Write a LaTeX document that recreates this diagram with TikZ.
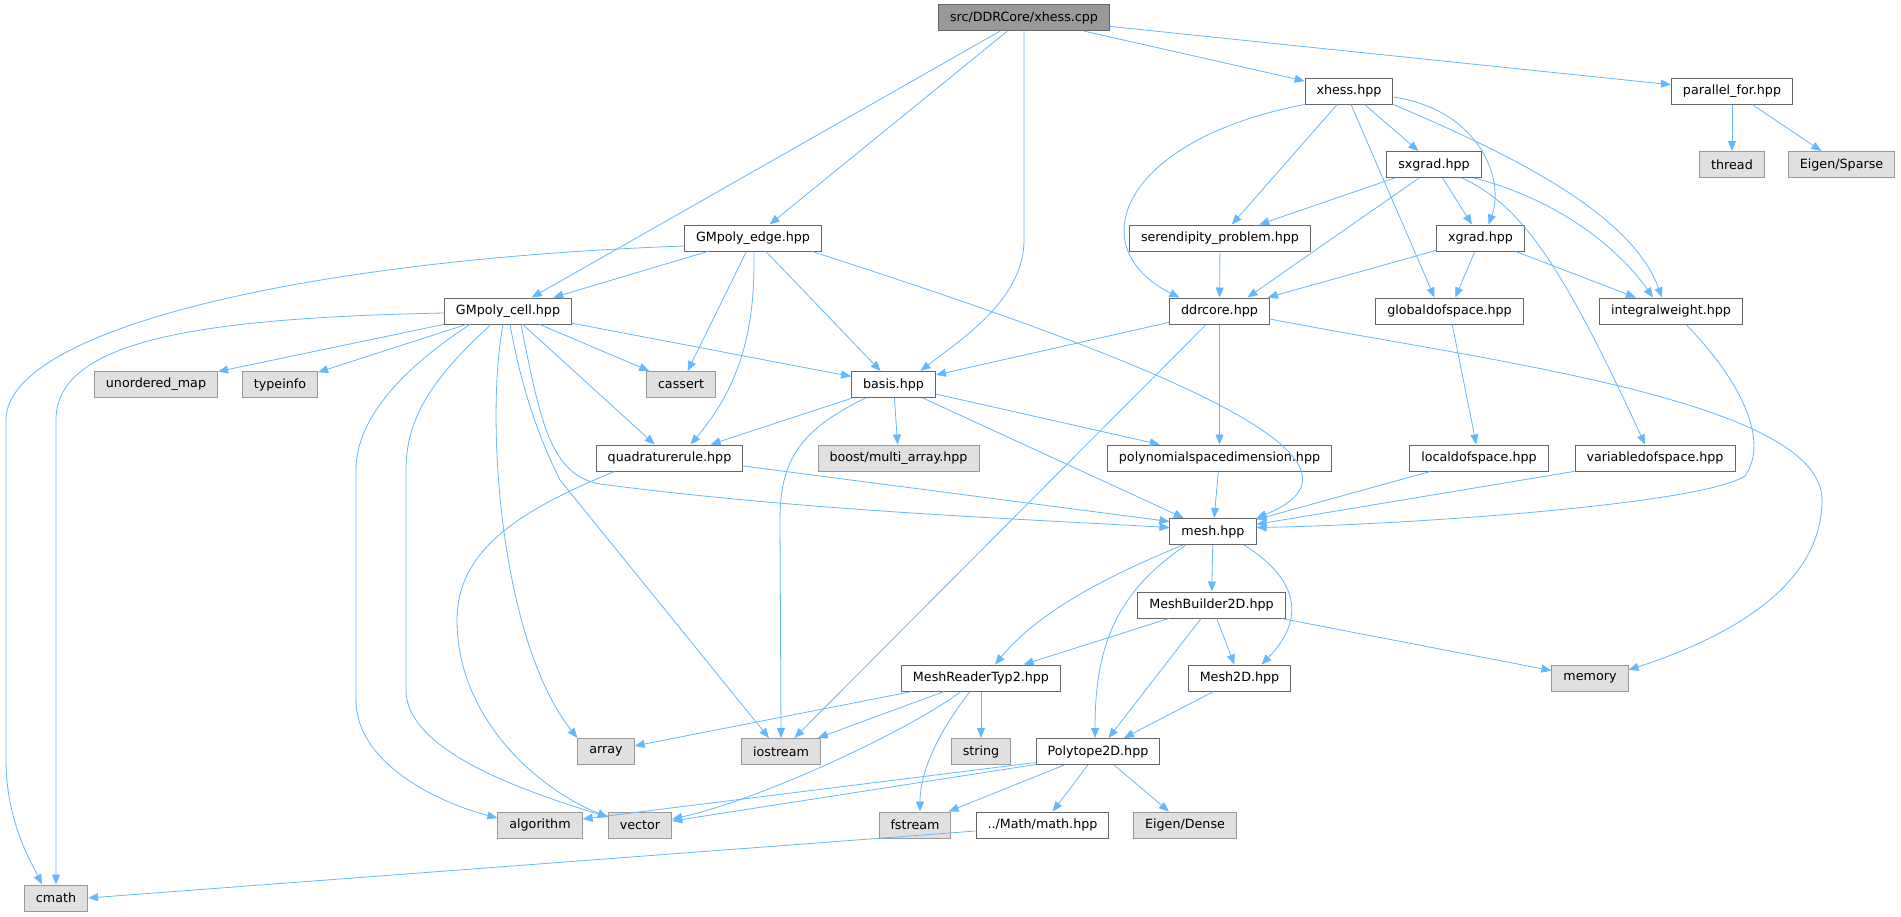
\documentclass[tikz,border=0pt]{standalone}
\usepackage{fontspec}
\setmainfont{DejaVu Sans}
\usetikzlibrary{positioning}
\usetikzlibrary{arrows.meta}
\definecolor{edgeblue}{HTML}{63B8FF}
\definecolor{boxline}{HTML}{666666}
\definecolor{sysline}{HTML}{999999}
\definecolor{sysfill}{HTML}{E0E0E0}
\definecolor{mainfill}{HTML}{999999}

\begin{document}
\begin{tikzpicture}[x=1pt,y=-1pt]
\tikzset{file/.style={shape=rectangle, draw=boxline, fill=white, line width=1pt, minimum height=26pt, inner xsep=11.5pt, inner ysep=0pt, font=\fontsize{12.7}{15}\selectfont},
sys/.style={file, draw=sysline, fill=sysfill},
main/.style={file, fill=mainfill},
dep/.style={draw=edgeblue, line width=0.8pt, -{Triangle[length=10pt,width=8pt]}}}
\useasboundingbox (0,0) rectangle (1901,916);
\node[main] at (1024,17.5) (top) {src/DDRCore/xhess.cpp};
\node[file] at (1349,91) (xhess) {xhess.hpp};
\node[file] at (1732,91) (parfor) {parallel\_for.hpp};
\node[sys] at (1732,164.5) (thread) {thread};
\node[sys] at (1841.5,164.5) (sparse) {Eigen/Sparse};
\node[file] at (1434,164.5) (sxgrad) {sxgrad.hpp};
\node[file] at (753,238) (gmedge) {GMpoly\_edge.hpp};
\node[file] at (1220,238) (seren) {serendipity\_problem.hpp};
\node[file] at (1480.5,238) (xgrad) {xgrad.hpp};
\node[file] at (508,311) (gmcell) {GMpoly\_cell.hpp};
\node[file] at (1219.5,311) (ddrcore) {ddrcore.hpp};
\node[file] at (1449.5,311) (globaldof) {globaldofspace.hpp};
\node[file] at (1671,311) (intweight) {integralweight.hpp};
\node[sys] at (156,384.5) (umap) {unordered\_map};
\node[sys] at (280,384.5) (typeinfo) {typeinfo};
\node[sys] at (681,384.5) (cassert) {cassert};
\node[file] at (893.5,384.5) (basis) {basis.hpp};
\node[file] at (669.5,458) (quadrule) {quadraturerule.hpp};
\node[sys] at (898.5,458) (boost) {boost/multi\_array.hpp};
\node[file] at (1219.5,458) (polydim) {polynomialspacedimension.hpp};
\node[file] at (1479,458) (localdof) {localdofspace.hpp};
\node[file] at (1655,458) (vardof) {variabledofspace.hpp};
\node[file] at (1213,531.5) (mesh) {mesh.hpp};
\node[file] at (1211.5,605) (builder) {MeshBuilder2D.hpp};
\node[file] at (981,678) (reader) {MeshReaderTyp2.hpp};
\node[file] at (1239.5,678) (mesh2d) {Mesh2D.hpp};
\node[sys] at (1590,678) (memory) {memory};
\node[sys] at (606,751.5) (array) {array};
\node[sys] at (781,751.5) (iostream) {iostream};
\node[sys] at (981,751.5) (string) {string};
\node[file] at (1098,751.5) (polytope) {Polytope2D.hpp};
\node[sys] at (540,825) (algorithm) {algorithm};
\node[sys] at (640,825) (vector) {vector};
\node[sys] at (915,825) (fstream) {fstream};
\node[file] at (1042.5,825) (math) {../Math/math.hpp};
\node[sys] at (1185,825) (dense) {Eigen/Dense};
\node[sys] at (56,898) (cmath) {cmath};
% straight includes
\foreach \s/\t in {top/gmcell, top/gmedge, top/xhess, top/parfor, xhess/seren, xhess/sxgrad,
  parfor/thread, parfor/sparse, sxgrad/seren, sxgrad/xgrad, seren/ddrcore, xgrad/ddrcore,
  xgrad/globaldof, xgrad/intweight, ddrcore/basis, ddrcore/iostream, ddrcore/polydim,
  globaldof/localdof, localdof/mesh, vardof/mesh, polydim/mesh, gmedge/gmcell, gmedge/cassert,
  gmedge/basis, gmcell/umap, gmcell/typeinfo, gmcell/quadrule, gmcell/cassert, gmcell/basis,
  basis/quadrule, basis/boost, basis/polydim, basis/mesh, mesh/builder, builder/reader,
  builder/polytope, builder/mesh2d, builder/memory, mesh2d/polytope, reader/array,
  reader/iostream, reader/string, polytope/fstream, polytope/math, polytope/dense}{
\draw[dep] (\s) -- (\t);
}
% bent includes
\draw[dep] (top.south) -- (1024,240) .. controls (1024,300) and (960,340) .. ([xshift=27pt]basis.north);
\draw[dep] (xhess.south west) .. controls (1120,140) and (1080,248) .. ([xshift=-40pt]ddrcore.north);
\draw[dep] ([xshift=2pt]xhess.south) -- ([xshift=-15pt]globaldof.north);
\draw[dep] ([yshift=-6pt]xhess.east) .. controls (1480,110) and (1505,180) .. ([xshift=8pt]xgrad.north);
\draw[dep] (xhess.south east) .. controls (1500,150) and (1630,210) .. ([xshift=-9pt]intweight.north);
\draw[dep] ([xshift=-15pt]sxgrad.south) -- ([xshift=28pt]ddrcore.north);
\draw[dep] ([xshift=28pt]sxgrad.south) .. controls (1520,205) and (1560,260) .. ([xshift=-10pt]vardof.north);
\draw[dep] ([xshift=40pt]sxgrad.south) .. controls (1560,200) and (1620,250) .. ([xshift=-18pt]intweight.north);
\draw[dep] ([yshift=-8pt]ddrcore.east) .. controls (1480,360) and (1822,400) .. (1822,500) .. controls (1822,590) and (1720,640) .. ([yshift=8pt]memory.east);
\draw[dep] ([xshift=15pt]intweight.south) .. controls (1740,380) and (1770,440) .. (1745,476) .. controls (1700,505) and (1400,525) .. ([yshift=4pt]mesh.east);
\draw[dep] ([yshift=-8pt]gmedge.west) .. controls (300,260) and (6,330) .. (6,420) -- (6,760) .. controls (6,820) and (30,860) .. ([xshift=-14pt]cmath.north);
\draw[dep] ([xshift=1pt]gmedge.south) .. controls (755,320) and (745,380) .. ([xshift=21pt]quadrule.north);
\draw[dep] ([xshift=59pt]gmedge.south) .. controls (1150,360) and (1400,460) .. (mesh.north east);
\draw[dep] ([yshift=-2pt]gmcell.west) .. controls (200,318) and (56,340) .. (56,420) -- (cmath.north);
\draw[dep] ([xshift=-38pt]gmcell.south) .. controls (400,370) and (356,420) .. (356,470) -- (356,700) .. controls (356,760) and (430,800) .. ([yshift=7pt]algorithm.west);
\draw[dep] ([xshift=-17pt]gmcell.south) .. controls (430,380) and (406,420) .. (406,470) -- (406,690) .. controls (406,750) and (520,790) .. ([yshift=8pt]vector.west);
\draw[dep] ([xshift=-5pt]gmcell.south) .. controls (485,420) and (500,640) .. (array.north west);
\draw[dep] ([xshift=2pt]gmcell.south) .. controls (520,380) and (535,430) .. (560,480) -- ([xshift=-12pt]iostream.north);
\draw[dep] ([xshift=13pt]gmcell.south) .. controls (540,420) and (550,475) .. (600,484) .. controls (800,510) and (1000,518) .. ([yshift=4pt]mesh.west);
\draw[dep] ([xshift=-28pt]basis.south) .. controls (800,430) and (780,460) .. (780,520) -- (iostream.north);
\draw[dep] ([yshift=-8pt]quadrule.east) -- ([yshift=10pt]mesh.west);
\draw[dep] ([xshift=-55pt]quadrule.south) .. controls (520,510) and (457,550) .. (457,620) .. controls (457,720) and (540,790) .. ([yshift=8pt]vector.west);
\draw[dep] ([xshift=-30pt]mesh.south) .. controls (1110,575) and (1040,610) .. ([xshift=14pt]reader.north);
\draw[dep] ([xshift=-27pt]mesh.south) .. controls (1120,590) and (1095,640) .. ([xshift=-3pt]polytope.north);
\draw[dep] ([xshift=31pt]mesh.south) .. controls (1300,580) and (1305,620) .. ([xshift=22pt]mesh2d.north);
\draw[dep] ([xshift=-20pt]reader.south) .. controls (910,730) and (760,800) .. ([yshift=6pt]vector.east);
\draw[dep] ([xshift=-11pt]reader.south) .. controls (940,730) and (920,770) .. ([xshift=5pt]fstream.north);
\draw[dep] ([yshift=-11pt]polytope.west) -- ([yshift=6pt]algorithm.east);
\draw[dep] ([yshift=-13pt]polytope.west) -- ([yshift=4pt]vector.east);
\draw[dep] ([yshift=-6pt]math.west) -- (cmath.east);
\end{tikzpicture}
\end{document}
